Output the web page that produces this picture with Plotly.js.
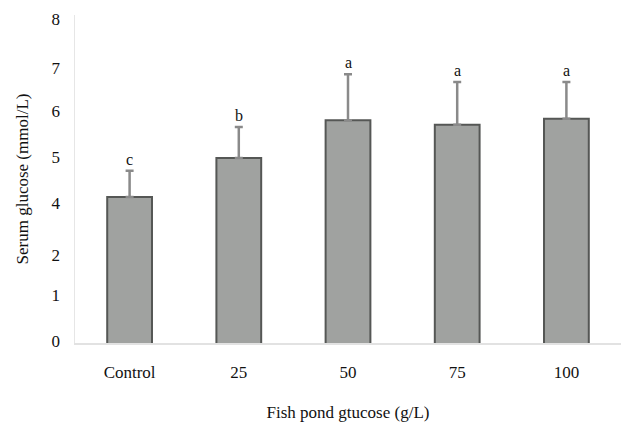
<!DOCTYPE html>
<html>
<head>
<meta charset="utf-8">
<script src="https://cdn.plot.ly/plotly-3.0.1.min.js"></script>
<style>html,body{margin:0;padding:0;background:#fff;}#chart{width:621px;height:423px;}</style>
</head>
<body>
<div id="chart"></div>
<script>
const categories = ['Control', '25', '50', '75', '100'];
const glucose = [4.13, 4.98, 5.80, 5.70, 5.83];
const sd = [0.57, 0.67, 1.00, 0.93, 0.80];
const letters = ['c', 'b', 'a', 'a', 'a'];
const yTickVals = [1, 2, 2.87, 4, 5, 6, 6.93, 8];
const yTickText = ['0', '1', '2', '4', '5', '6', '7', '8'];

const font = '"Liberation Serif", "Times New Roman", serif';

const trace = {
  type: 'bar',
  x: categories,
  y: glucose,
  width: 0.41,
  marker: {color: '#a0a2a0', line: {color: '#555755', width: 2}},
  error_y: {type: 'data', array: sd, arrayminus: sd.map(() => 0), visible: true, color: '#8a8a8a', thickness: 2.5, width: 4}
};

const annotations = categories.map((c, i) => ({
  x: i, y: glucose[i] + sd[i], xref: 'x', yref: 'y',
  text: letters[i], showarrow: false, yanchor: 'bottom', yshift: 1,
  font: {family: font, size: 16, color: '#111'}
}));

const layout = {
  width: 621, height: 423,
  margin: {l: 75, r: 0, t: 15, b: 80},
  paper_bgcolor: '#fff', plot_bgcolor: '#fff',
  showlegend: false,
  font: {family: font, size: 17, color: '#111'},
  xaxis: {
    type: 'category', range: [-0.5, 4.5],
    showgrid: false, zeroline: false, showline: true, linecolor: '#e2e2e2', linewidth: 1.5,
    ticks: '', ticklabelstandoff: 13,
    tickfont: {family: font, size: 17, color: '#111'},
    title: {text: 'Fish pond gtucose (g/L)', font: {family: font, size: 17, color: '#111'}, standoff: 25}
  },
  yaxis: {
    range: [0.957, 8.087], showgrid: false, zeroline: false,
    showline: true, linecolor: '#e6e6e6', linewidth: 1.5,
    tickmode: 'array', tickvals: yTickVals, ticktext: yTickText,
    ticks: '', ticklabelstandoff: 10,
    tickfont: {family: font, size: 17, color: '#111'},
    title: {text: 'Serum glucose (mmol/L)', font: {family: font, size: 17, color: '#111'}, standoff: 18}
  },
  annotations: annotations
};

Plotly.newPlot('chart', [trace], layout, {displayModeBar: false, staticPlot: true});
</script>
</body>
</html>
